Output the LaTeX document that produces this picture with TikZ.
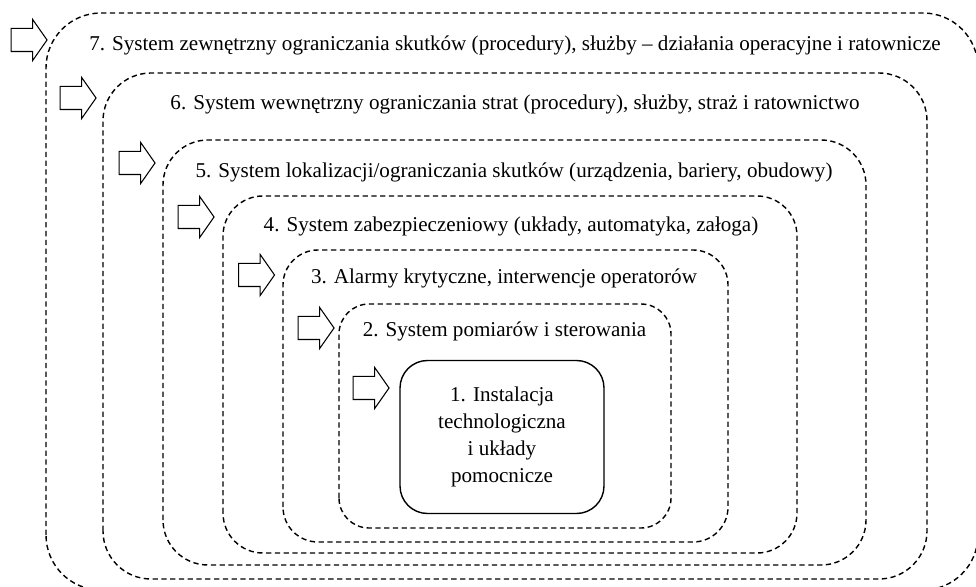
\documentclass[tikz,border=0pt]{standalone}
\usepackage{fontspec}
\setmainfont{Liberation Serif}
\usepackage{tikz}
\usetikzlibrary{shapes.arrows}
\definecolor{layerline}{RGB}{0,0,0}
\definecolor{coreline}{RGB}{0,0,0}

\begin{document}
\begin{tikzpicture}[
  font=\fontsize{12}{14.4}\selectfont,
  layer/.style={
    layerline, line width=0.8pt, dash pattern=on 3pt off 2pt
  },
  core/.style={
    rectangle, rounded corners=0.55cm, draw=coreline, line width=0.8pt,
    minimum width=4.08cm, minimum height=3.06cm,
    align=center, inner sep=4pt, font=\fontsize{12}{15.4}\selectfont
  },
  inflow/.style={
    single arrow, draw=black, line width=0.6pt, fill=white,
    inner xsep=0pt, inner ysep=0.22cm, minimum height=0.72cm,
    single arrow head extend=0.18cm, single arrow tip angle=110,
    single arrow head indent=0cm
  },
  layerlabel/.style={inner sep=1pt}
]
\useasboundingbox (0,0) rectangle (19.52,11.72);

% =====================================================================
% Protection layers (outermost first)
% =====================================================================

% -- Layer 7 --
\draw[layer, rounded corners=1.1cm] (0.92,-0.08) rectangle (19.56,11.46);
\node[layerlabel] (Label7) at (10.30,10.82)
  {7. System zewnętrzny ograniczania skutków (procedury), służby – działania operacyjne i ratownicze};

% -- Layer 6 --
\draw[layer, rounded corners=0.96cm] (2.06,0.14) rectangle (18.54,10.26);
\node[layerlabel] (Label6) at (10.30,9.64)
  {6. System wewnętrzny ograniczania strat (procedury), służby, straż i ratownictwo};

% -- Layer 5 --
\draw[layer, rounded corners=0.9cm] (3.26,0.42) rectangle (17.32,8.92);
\node[layerlabel] (Label5) at (10.28,8.28)
  {5. System lokalizacji/ograniczania skutków (urządzenia, bariery, obudowy)};

% -- Layer 4 --
\draw[layer, rounded corners=0.8cm] (4.46,0.66) rectangle (15.94,7.80);
\node[layerlabel] (Label4) at (10.22,7.20)
  {4. System zabezpieczeniowy (układy, automatyka, załoga)};

% -- Layer 3 --
\draw[layer, rounded corners=0.7cm] (5.66,0.88) rectangle (14.56,6.72);
\node[layerlabel] (Label3) at (10.08,6.16)
  {3. Alarmy krytyczne, interwencje operatorów};

% -- Layer 2 --
\draw[layer, rounded corners=0.6cm] (6.78,1.16) rectangle (13.42,5.64);
\node[layerlabel] (Label2) at (10.09,5.10)
  {2. System pomiarów i sterowania};

% -- Layer 1 (process core) --
\node[core] (Core) at (10.04,2.98)
  {1. Instalacja\\technologiczna\\i układy\\pomocnicze};

% =====================================================================
% Entry arrows
% =====================================================================
\node[inflow] (Arrow7) at (0.50,10.92) {};
\node[inflow] (Arrow6) at (1.48,9.76) {};
\node[inflow] (Arrow5) at (2.66,8.46) {};
\node[inflow] (Arrow4) at (3.84,7.38) {};
\node[inflow] (Arrow3) at (5.05,6.22) {};
\node[inflow] (Arrow2) at (6.24,5.16) {};
\node[inflow] (Arrow1) at (7.34,3.96) {};

\end{tikzpicture}
\end{document}
